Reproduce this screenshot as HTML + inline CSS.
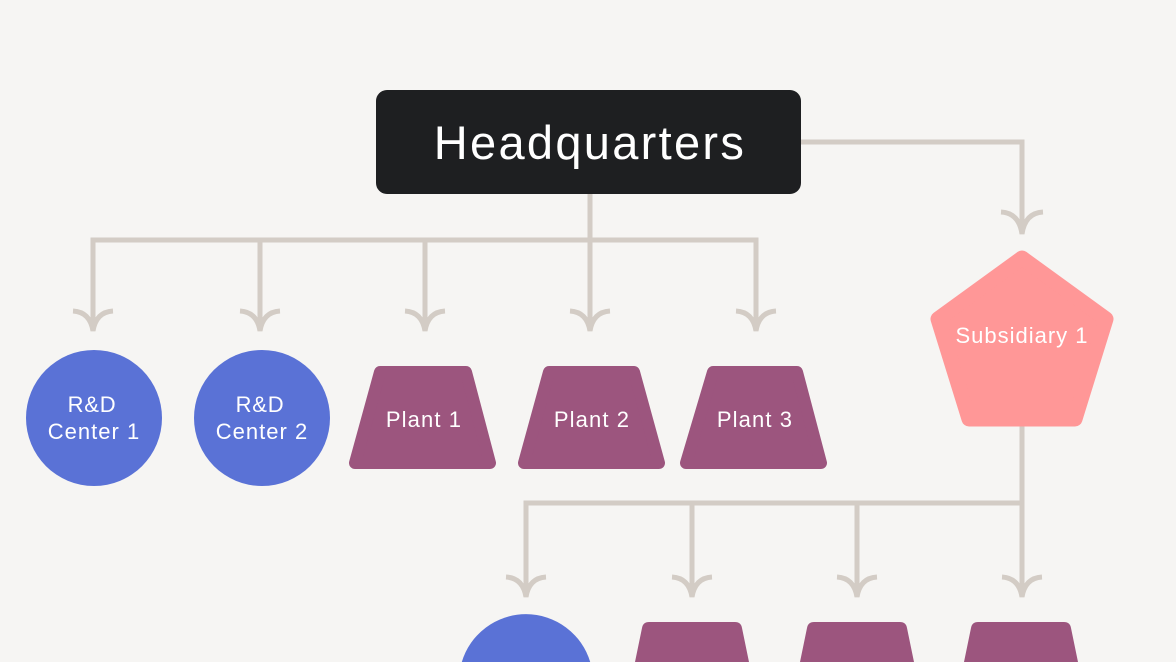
<!DOCTYPE html>
<html>
<head>
<meta charset="utf-8">
<style>
  html,body{margin:0;padding:0;background:#f6f5f3;}
  body{width:1176px;height:662px;overflow:hidden;position:relative;}
  svg{display:block;position:absolute;left:0;top:0;overflow:hidden;}
  text{font-family:"Liberation Sans","DejaVu Sans",sans-serif;fill:#ffffff;}
</style>
</head>
<body>
<svg width="1176" height="662" viewBox="0 0 1176 662" xmlns="http://www.w3.org/2000/svg">
  <rect x="0" y="0" width="1176" height="662" fill="#f6f5f3"/>

  <!-- connectors -->
  <g fill="none" stroke="#d3ccc5" stroke-width="5" stroke-linejoin="miter">
    <path d="M590 194 V240"/>
    <path d="M93 331 V240 H756 V331"/>
    <path d="M260 240 V331"/>
    <path d="M425 240 V331"/>
    <path d="M590 240 V331"/>
    <path d="M800 142 H1022 V234"/>
    <path d="M1022 426 V503"/>
    <path d="M526 597 V503 H1022 V597"/>
    <path d="M692 503 V597"/>
    <path d="M857 503 V597"/>
  </g>

  <!-- arrowheads -->
  <g fill="none" stroke="#d3ccc5" stroke-width="5" stroke-linecap="butt">
    <path d="M73 311 Q90 312 93 331 Q96 312 113 311"/>
    <path d="M240 311 Q257 312 260 331 Q263 312 280 311"/>
    <path d="M405 311 Q422 312 425 331 Q428 312 445 311"/>
    <path d="M570 311 Q587 312 590 331 Q593 312 610 311"/>
    <path d="M736 311 Q753 312 756 331 Q759 312 776 311"/>
    <path d="M1001 212 Q1019 213 1022 234 Q1025 213 1043 212"/>
    <path d="M506 577 Q523 578 526 597 Q529 578 546 577"/>
    <path d="M672 577 Q689 578 692 597 Q695 578 712 577"/>
    <path d="M837 577 Q854 578 857 597 Q860 578 877 577"/>
    <path d="M1002 577 Q1019 578 1022 597 Q1025 578 1042 577"/>
  </g>

  <!-- Headquarters -->
  <rect x="376" y="90" width="425" height="104" rx="11" ry="11" fill="#1e1f21"/>
  <text x="590" y="159" font-size="47" text-anchor="middle" letter-spacing="2.3">Headquarters</text>

  <!-- R&D circles -->
  <circle cx="94" cy="418" r="68" fill="#5a72d6"/>
  <circle cx="262" cy="418" r="68" fill="#5a72d6"/>
  <text x="92" y="412" font-size="22" text-anchor="middle" letter-spacing="0.8">R&amp;D</text>
  <text x="94" y="439" font-size="22" text-anchor="middle" letter-spacing="1">Center 1</text>
  <text x="260" y="412" font-size="22" text-anchor="middle" letter-spacing="0.8">R&amp;D</text>
  <text x="262" y="439" font-size="22" text-anchor="middle" letter-spacing="1">Center 2</text>

  <!-- Plants row 1 -->
  <g fill="#9c557e" stroke="#9c557e" stroke-width="12" stroke-linejoin="round">
    <polygon points="380,372 466,372 490,463 355,463"/>
    <polygon points="549,372 634,372 659,463 524,463"/>
    <polygon points="713,372 797,372 821,463 686,463"/>
  </g>
  <text x="424" y="427" font-size="22" text-anchor="middle" letter-spacing="1.1">Plant 1</text>
  <text x="592" y="427" font-size="22" text-anchor="middle" letter-spacing="1.1">Plant 2</text>
  <text x="755" y="427" font-size="22" text-anchor="middle" letter-spacing="1.1">Plant 3</text>

  <!-- Subsidiary pentagon -->
  <polygon points="1022,258 1106,319 1075,419 969,419 938,319" fill="#ff9797" stroke="#ff9797" stroke-width="15" stroke-linejoin="round"/>
  <text x="1022" y="343" font-size="22" text-anchor="middle" letter-spacing="1">Subsidiary 1</text>

  <!-- bottom row (clipped at frame edge) -->
  <path d="M461.8 662 A67 67 0 0 1 590.2 662 Z" fill="#5a72d6"/>
  <g fill="#9c557e">
    <path d="M635 662 L642 628 Q643 622 649 622 L735 622 Q741 622 742 628 L749 662 Z"/>
    <path d="M800 662 L807 628 Q808 622 814 622 L900 622 Q906 622 907 628 L914 662 Z"/>
    <path d="M964 662 L971 628 Q972 622 978 622 L1064 622 Q1070 622 1071 628 L1078 662 Z"/>
  </g>
</svg>
</body>
</html>
